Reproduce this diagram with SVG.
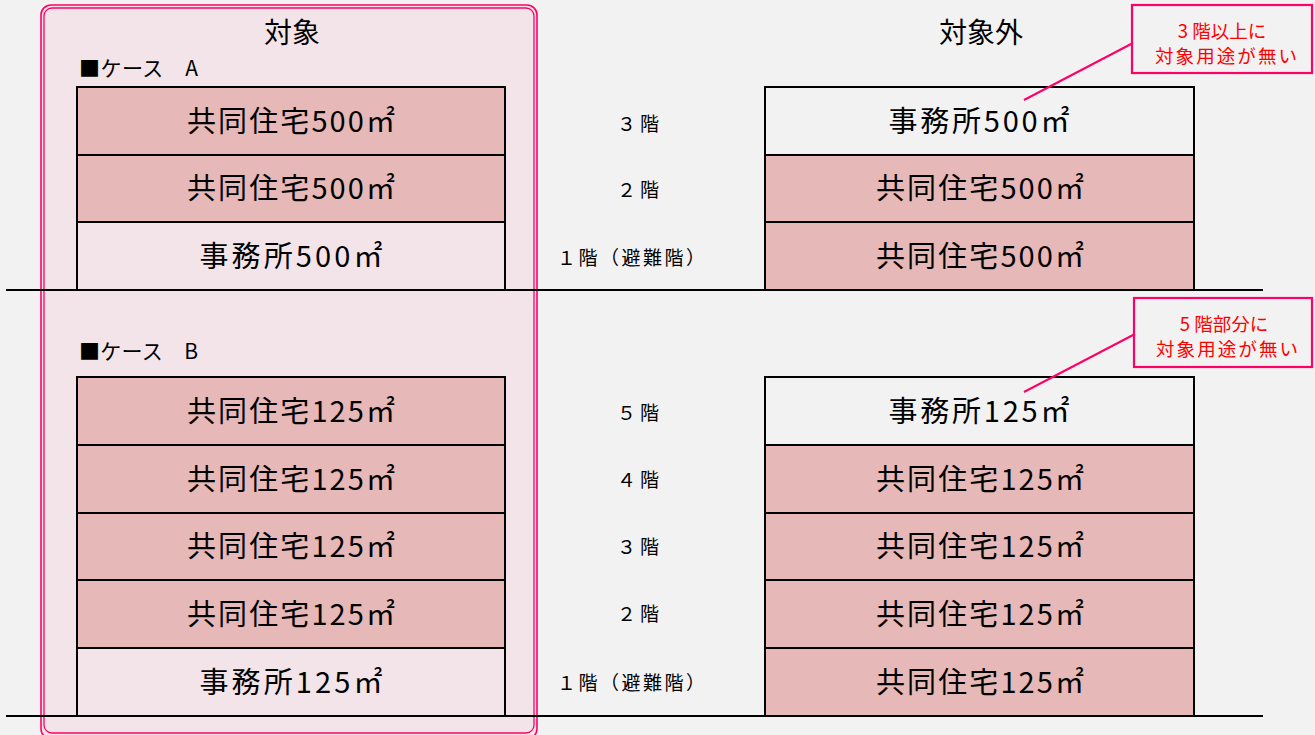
<svg xmlns="http://www.w3.org/2000/svg" width="1315" height="735" viewBox="0 0 1315 735">
<style>
.cell{stroke:#000;stroke-width:2}
.pk{fill:#e6b8b7}
.wh{fill:none}
.t{font-family:"Noto Sans CJK JP","Noto Sans",sans-serif;fill:#000;text-anchor:middle}
.big{font-size:29px}
.fl{font-size:19px}
.hd{font-size:28px}
.cs{font-size:21px;text-anchor:start}
.co{font-family:"Noto Sans CJK JP","Noto Sans",sans-serif;font-size:18.5px;fill:#ff0000;text-anchor:middle}
.cbox{fill:none;stroke:#ff0066;stroke-width:2.2}
.lead{stroke:#ff0066;stroke-width:2;fill:none}
.gnd{stroke:#000;stroke-width:2.2}
</style>
<rect width="1315" height="735" fill="#f2f2f2"/>
<g id="frame">
<rect x="41" y="5" width="496" height="734" rx="10" fill="#f2e4e8" stroke="#ff0066" stroke-width="1.6"/>
<rect x="44" y="8" width="490" height="725" rx="8" fill="none" stroke="#ff0066" stroke-width="1.3"/>
</g>
<g id="headers">
<text class="t hd" x="292" y="43">対象</text>
<text class="t hd" x="981" y="43">対象外</text>
<text class="t cs" x="79" y="76" textLength="119" lengthAdjust="spacing">■ケース　A</text>
<text class="t cs" x="79" y="359" textLength="119" lengthAdjust="spacing">■ケース　B</text>
</g>
<g id="caseA-left">
<rect class="cell pk" x="77" y="87" width="428" height="68"/>
<text class="t big" x="291" y="132" textLength="208" lengthAdjust="spacing">共同住宅500㎡</text>
<rect class="cell pk" x="77" y="155" width="428" height="67"/>
<text class="t big" x="291" y="199" textLength="208" lengthAdjust="spacing">共同住宅500㎡</text>
<rect class="cell wh" x="77" y="222" width="428" height="68"/>
<text class="t big" x="291" y="267" textLength="183" lengthAdjust="spacing">事務所500㎡</text>
</g>
<g id="caseA-right">
<rect class="cell wh" x="765" y="87" width="429" height="68"/>
<text class="t big" x="979" y="132" textLength="181" lengthAdjust="spacing">事務所500㎡</text>
<rect class="cell pk" x="765" y="155" width="429" height="67"/>
<text class="t big" x="980" y="199" textLength="208" lengthAdjust="spacing">共同住宅500㎡</text>
<rect class="cell pk" x="765" y="222" width="429" height="68"/>
<text class="t big" x="980" y="267" textLength="208" lengthAdjust="spacing">共同住宅500㎡</text>
</g>
<g id="caseA-floors">
<text class="t fl" x="638" y="131" textLength="42" lengthAdjust="spacing">３階</text>
<text class="t fl" x="638" y="197" textLength="42" lengthAdjust="spacing">２階</text>
<text class="t fl" x="631" y="265" textLength="148" lengthAdjust="spacing">１階（避難階）</text>
</g>
<g id="caseB-left">
<rect class="cell pk" x="77" y="377" width="428" height="68"/>
<text class="t big" x="291" y="422" textLength="208" lengthAdjust="spacing">共同住宅125㎡</text>
<rect class="cell pk" x="77" y="445" width="428" height="68"/>
<text class="t big" x="291" y="490" textLength="208" lengthAdjust="spacing">共同住宅125㎡</text>
<rect class="cell pk" x="77" y="513" width="428" height="67"/>
<text class="t big" x="291" y="557" textLength="208" lengthAdjust="spacing">共同住宅125㎡</text>
<rect class="cell pk" x="77" y="580" width="428" height="68"/>
<text class="t big" x="291" y="625" textLength="208" lengthAdjust="spacing">共同住宅125㎡</text>
<rect class="cell wh" x="77" y="648" width="428" height="68"/>
<text class="t big" x="291" y="693" textLength="183" lengthAdjust="spacing">事務所125㎡</text>
</g>
<g id="caseB-right">
<rect class="cell wh" x="765" y="377" width="429" height="68"/>
<text class="t big" x="979" y="422" textLength="181" lengthAdjust="spacing">事務所125㎡</text>
<rect class="cell pk" x="765" y="445" width="429" height="68"/>
<text class="t big" x="980" y="490" textLength="208" lengthAdjust="spacing">共同住宅125㎡</text>
<rect class="cell pk" x="765" y="513" width="429" height="67"/>
<text class="t big" x="980" y="557" textLength="208" lengthAdjust="spacing">共同住宅125㎡</text>
<rect class="cell pk" x="765" y="580" width="429" height="68"/>
<text class="t big" x="980" y="625" textLength="208" lengthAdjust="spacing">共同住宅125㎡</text>
<rect class="cell pk" x="765" y="648" width="429" height="68"/>
<text class="t big" x="980" y="693" textLength="208" lengthAdjust="spacing">共同住宅125㎡</text>
</g>
<g id="caseB-floors">
<text class="t fl" x="638" y="420" textLength="42" lengthAdjust="spacing">５階</text>
<text class="t fl" x="638" y="487" textLength="42" lengthAdjust="spacing">４階</text>
<text class="t fl" x="638" y="554" textLength="42" lengthAdjust="spacing">３階</text>
<text class="t fl" x="638" y="621" textLength="42" lengthAdjust="spacing">２階</text>
<text class="t fl" x="631" y="690" textLength="148" lengthAdjust="spacing">１階（避難階）</text>
</g>
<g id="ground">
<line class="gnd" x1="6" y1="290" x2="1263" y2="290"/>
<line class="gnd" x1="6" y1="716" x2="1263" y2="716"/>
</g>
<g id="connectors">
<line class="lead" x1="1024" y1="100" x2="1133" y2="43"/>
<line class="lead" x1="1024" y1="392" x2="1135" y2="334"/>
</g>
<g id="callout1">
<rect class="cbox" x="1132" y="5" width="180" height="68"/>
<text class="co" x="1222" y="38">3 階以上に</text>
<text class="co" x="1226" y="63" textLength="142" lengthAdjust="spacing">対象用途が無い</text>
</g>
<g id="callout2">
<rect class="cbox" x="1134" y="298" width="178" height="69"/>
<text class="co" x="1224" y="331">5 階部分に</text>
<text class="co" x="1227" y="356" textLength="142" lengthAdjust="spacing">対象用途が無い</text>
</g>
</svg>
